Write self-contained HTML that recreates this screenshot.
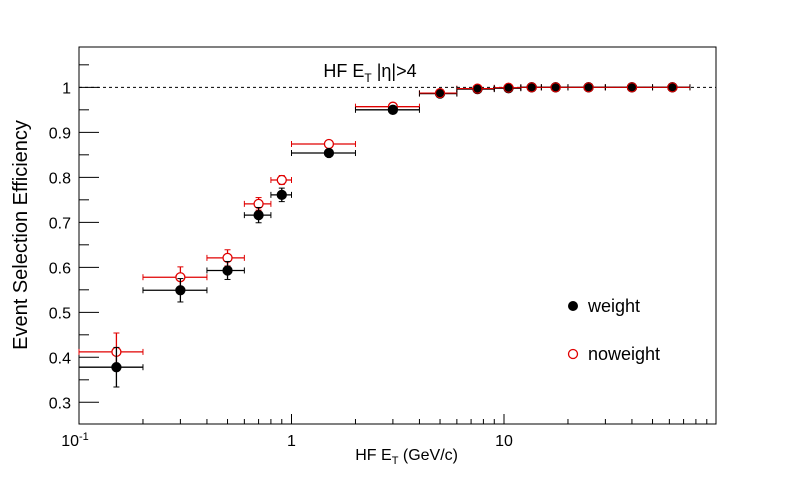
<!DOCTYPE html>
<html><head><meta charset="utf-8"><style>
html,body{margin:0;padding:0;background:#fff;}
svg text{font-family:"Liberation Sans",sans-serif;}
</style></head><body>
<svg width="796" height="472" viewBox="0 0 796 472" xmlns="http://www.w3.org/2000/svg">
<rect x="0" y="0" width="796" height="472" fill="#fff"/>
<g id="plot"></g>
</svg>
<script>
const binCenters = [0.15,0.3,0.5,0.7,0.9,1.5,3,5,7.5,10.5,13.5,17.5,25,40,62];
const binLow     = [0.1,0.2,0.4,0.6,0.8,1,2,4,6,9,12,15,20,30,50];
const binHigh    = [0.2,0.4,0.6,0.8,1,2,4,6,9,12,15,20,30,50,75];
const weightVals = [0.378,0.549,0.593,0.716,0.761,0.854,0.950,0.986,0.996,0.998,1,1,1,1,1];
const weightErr  = [0.044,0.026,0.020,0.017,0.015,0.004,0.003,0.002,0.001,0.001,0,0,0,0,0];
const noweightVals = [0.412,0.578,0.621,0.741,0.794,0.874,0.957,0.987,0.997,0.999,1,1,1,1,1];
const noweightErr  = [0.042,0.023,0.018,0.014,0.010,0.004,0.003,0.002,0.001,0.001,0,0,0,0,0];
const yTickLabels = [0.3,0.4,0.5,0.6,0.7,0.8,0.9,1];

const L=79,R=716,T=47,B=424;
const xDec=212.5;
const X=v=>L+(Math.log10(v)+1)*xDec;
const yMin=0.2518,yMax=1.0896;
const Y=v=>B-(v-yMin)/(yMax-yMin)*(B-T);
const NS="http://www.w3.org/2000/svg";
const g=document.getElementById('plot');
function mk(tag,attrs,parent){const e=document.createElementNS(NS,tag);for(const k in attrs)e.setAttribute(k,attrs[k]);(parent||g).appendChild(e);return e;}

const frame=mk('rect',{x:L,y:T,width:R-L,height:B-T,fill:'none',stroke:'#000','stroke-width':1});



for(let i=0;i<=17;i++){const v=0.25+i*0.05; if(v>yMax+1e-9) break; const y=Y(v); if(y<T||y>B) continue;
  const major=Math.abs(Math.round(v*10)-v*10)<1e-6;
  const t=mk('line',{x1:L,x2:L+(major?20:10),y1:y,y2:y,stroke:'#000'});
  
  
}
yTickLabels.forEach(v=>{const t=mk('text',{x:L-8,y:Y(v)+6,'text-anchor':'end','font-size':16});t.textContent=String(v);
  
  });

for(let d=-1;d<=1;d++){for(let m=1;m<=9;m++){const v=m*Math.pow(10,d);const x=X(v);if(x<L-0.5||x>R)continue;
  const t=mk('line',{x1:x,x2:x,y1:B,y2:B-(m===1?10:5),stroke:'#000'});
  
  }}
[[0.1,'10','-1'],[1,'1',null],[10,'10',null]].forEach(([v,s,e])=>{
  const t=mk('text',{x:X(v)+(e?-4:0),y:B+22,'text-anchor':'middle','font-size':16});t.textContent=s;
  if(e){const ts=mk('tspan',{dy:-6,'font-size':11},t);ts.textContent=e;}
  
  });

const dl=mk('line',{x1:L,x2:R,y1:Y(1),y2:Y(1),stroke:'#000','stroke-dasharray':'3,3'});



function series(vals,errs,color,filled,name){
  const sg=mk('g',{});
  
  
  vals.forEach((v,i)=>{
    const cx=X(binCenters[i]),cy=Y(v);
    mk('line',{x1:X(binLow[i]),x2:X(binHigh[i]),y1:cy,y2:cy,stroke:color,'stroke-width':1.3},sg);
    mk('line',{x1:X(binLow[i]),x2:X(binLow[i]),y1:cy-3,y2:cy+3,stroke:color},sg);
    mk('line',{x1:X(binHigh[i]),x2:X(binHigh[i]),y1:cy-3,y2:cy+3,stroke:color},sg);
    if(errs[i]>0){const y1=Y(v+errs[i]),y2=Y(v-errs[i]);
      mk('line',{x1:cx,x2:cx,y1:y1,y2:y2,stroke:color,'stroke-width':1.3},sg);
      mk('line',{x1:cx-3,x2:cx+3,y1:y1,y2:y1,stroke:color},sg);
      mk('line',{x1:cx-3,x2:cx+3,y1:y2,y2:y2,stroke:color},sg);}
    const c=mk('circle',{cx:cx,cy:cy,r:4.5,fill:filled?'#000':'#fff',stroke:color,'stroke-width':1.3},sg);
    
    
  });
}
series(noweightVals,noweightErr,'#e00000',false,'noweight');
series(weightVals,weightErr,'#000',true,'weight');
weightVals.forEach((v,i)=>{ if(i>=7){const cy=Y(noweightVals[i]);
  const ln=mk('line',{x1:X(binLow[i]),x2:X(binHigh[i]),y1:cy,y2:cy,stroke:'#e00000','stroke-width':1});
  
  
  const c=mk('circle',{cx:X(binCenters[i]),cy:cy,r:4.5,fill:'#000',stroke:'#e00000','stroke-width':1});
  
  }});

const ti=mk('text',{x:370,y:77,'text-anchor':'middle','font-size':18});
ti.innerHTML='HF E<tspan dy="5" font-size="12">T</tspan><tspan dy="-5"> |η|&gt;4</tspan>';



const xt=mk('text',{x:458,y:460,'text-anchor':'end','font-size':16});
xt.innerHTML='HF E<tspan dy="4" font-size="11">T</tspan><tspan dy="-4"> (GeV/c)</tspan>';



const yt=mk('text',{x:0,y:0,'text-anchor':'middle','font-size':20,transform:'translate(27,235) rotate(-90)'});
yt.textContent='Event Selection Efficiency';



const lg=mk('g',{});


mk('circle',{cx:573,cy:306,r:4.5,fill:'#000',stroke:'#000'},lg);
const l1=mk('text',{x:588,y:312,'font-size':18},lg);l1.textContent='weight';


mk('circle',{cx:573,cy:354,r:4.5,fill:'#fff',stroke:'#e00000','stroke-width':1.3},lg);
const l2=mk('text',{x:588,y:360,'font-size':18},lg);l2.textContent='noweight';


</script>
</body></html>
